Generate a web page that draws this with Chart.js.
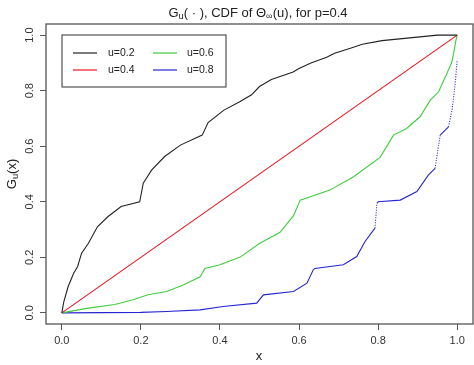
<!DOCTYPE html>
<html>
<head>
<meta charset="utf-8">
<script src="https://cdn.jsdelivr.net/npm/chart.js@4/dist/chart.umd.min.js"></script>
<style>
  html, body { margin: 0; padding: 0; background: #fff; }
  #wrap { width: 474px; height: 365px; }
</style>
</head>
<body>
<div id="wrap"><canvas id="graph"></canvas></div>
<script>
// values
let labels = ['u=0.2', 'u=0.4', 'u=0.6', 'u=0.8']
let colores = ['#222222', '#e8141e', '#3fcc3f', '#2626d0']
let ticks = [0, 0.2, 0.4, 0.6, 0.8, 1.0]

let x02 = [0, 0.005, 0.016, 0.03, 0.04, 0.05, 0.067, 0.09, 0.117, 0.15, 0.197, 0.206, 0.227, 0.26, 0.30, 0.355, 0.37, 0.41, 0.45, 0.48, 0.50, 0.53, 0.585, 0.6, 0.63, 0.67, 0.69, 0.73, 0.76, 0.81, 0.88, 0.95, 1.0]
let y02 = [0, 0.04, 0.095, 0.143, 0.167, 0.215, 0.25, 0.31, 0.347, 0.383, 0.40, 0.467, 0.514, 0.563, 0.604, 0.64, 0.685, 0.73, 0.76, 0.785, 0.815, 0.84, 0.867, 0.88, 0.90, 0.92, 0.935, 0.953, 0.967, 0.98, 0.99, 1.0, 1.0]

let x04 = [0, 1]
let y04 = [0, 1]

let x06 = [0, 0.067, 0.134, 0.18, 0.218, 0.265, 0.307, 0.35, 0.362, 0.40, 0.45, 0.50, 0.552, 0.586, 0.603, 0.678, 0.738, 0.805, 0.839, 0.872, 0.906, 0.932, 0.953, 0.974, 0.987, 0.997, 1.0]
let y06 = [0, 0.017, 0.03, 0.047, 0.065, 0.077, 0.10, 0.13, 0.16, 0.173, 0.20, 0.25, 0.29, 0.35, 0.406, 0.442, 0.49, 0.56, 0.64, 0.664, 0.706, 0.766, 0.796, 0.862, 0.905, 0.982, 1.0]

let x08 = [0, 0.2, 0.265, 0.35, 0.408, 0.493, 0.51, 0.586, 0.62, 0.636, 0.64, 0.712, 0.746, 0.767, 0.792, 0.797, 0.80, 0.856, 0.898, 0.927, 0.944, 0.957, 0.978, 0.987, 0.995, 1.0]
let y08 = [0, 0.002, 0.005, 0.011, 0.023, 0.035, 0.065, 0.077, 0.107, 0.155, 0.16, 0.173, 0.203, 0.257, 0.305, 0.394, 0.40, 0.406, 0.437, 0.496, 0.52, 0.64, 0.67, 0.73, 0.826, 0.91]

function pares(xs, ys) {
  let out = []
  for (let i = 0; i < xs.length; i++) out.push({x: xs[i], y: ys[i]})
  return out
}

let series = [pares(x02, y02), pares(x04, y04), pares(x06, y06), pares(x08, y08)]

// blue curve: steep parts look dotted in the original (sparse points)
function punteado(ctx) {
  const dx = Math.abs(ctx.p1.x - ctx.p0.x)
  const dy = Math.abs(ctx.p1.y - ctx.p0.y)
  return dy > 4 * dx ? [1, 1.5] : undefined
}

const data = {
  datasets: series.map((d, i) => ({
    label: labels[i],
    data: d,
    showLine: true,
    borderColor: colores[i],
    borderWidth: 1.1,
    pointRadius: 0,
    tension: 0,
    segment: i === 3 ? { borderDash: punteado } : undefined
  }))
}

const fuente = '"Liberation Sans", Arial, sans-serif'

// text with subscripts: pieces are [text, isSub]
function drawRich(ctx, parts, x, y, size) {
  let total = 0
  parts.forEach(p => {
    ctx.font = (p[1] ? size * 0.72 : size) + 'px ' + fuente
    total += ctx.measureText(p[0]).width
  })
  let cx = x - total / 2
  ctx.textAlign = 'left'
  ctx.textBaseline = 'middle'
  parts.forEach(p => {
    ctx.font = (p[1] ? size * 0.72 : size) + 'px ' + fuente
    ctx.fillText(p[0], cx, p[1] ? y + size * 0.3 : y)
    cx += ctx.measureText(p[0]).width
  })
}

const rPlot = {
  id: 'rPlot',
  afterDraw(chart) {
    const ctx = chart.ctx
    const a = chart.chartArea
    const ys = chart.scales.y
    ctx.save()
    // box
    ctx.strokeStyle = '#555'
    ctx.lineWidth = 1.3
    ctx.strokeRect(a.left, a.top, a.right - a.left, a.bottom - a.top)

    // y tick labels, rotated like R
    ctx.fillStyle = '#333'
    ctx.font = '11px ' + fuente
    ctx.textAlign = 'center'
    ctx.textBaseline = 'middle'
    ys.ticks.forEach(t => {
      const py = ys.getPixelForValue(t.value)
      ctx.save()
      ctx.translate(30, py)
      ctx.rotate(-Math.PI / 2)
      ctx.fillText(t.value.toFixed(1), 0, 0)
      ctx.restore()
    })

    // title
    ctx.fillStyle = '#222'
    drawRich(ctx, [['G', false], ['u', true], ['( \u00b7 ), CDF of \u0398', false], ['\u221e', true], ['(u), for p=0.4', false]], 258, 13, 13)

    // axis labels
    drawRich(ctx, [['x', false]], 259, 356, 13)
    ctx.save()
    ctx.translate(12, (a.top + a.bottom) / 2)
    ctx.rotate(-Math.PI / 2)
    drawRich(ctx, [['G', false], ['u', true], ['(x)', false]], 0, 0, 13)
    ctx.restore()

    // legend box
    ctx.strokeStyle = '#333'
    ctx.lineWidth = 1
    ctx.strokeRect(62, 35, 164, 52)
    const cols = [[73, 108], [153, 187]]
    const rows = [53, 70]
    chart.data.datasets.forEach((ds, i) => {
      const c = cols[Math.floor(i / 2)]
      const r = rows[i % 2]
      ctx.strokeStyle = ds.borderColor
      ctx.lineWidth = 1.2
      ctx.beginPath()
      ctx.moveTo(c[0], r)
      ctx.lineTo(c[0] + 24, r)
      ctx.stroke()
      ctx.fillStyle = '#222'
      ctx.font = '10.5px ' + fuente
      ctx.textAlign = 'left'
      ctx.textBaseline = 'middle'
      ctx.fillText(ds.label, c[1], r)
    })
    ctx.restore()
  }
}

const config = {
  type: 'scatter',
  data: data,
  options: {
    responsive: true,
    maintainAspectRatio: false,
    animation: false,
    layout: { padding: { top: 24, right: 1, left: 0, bottom: 0 } },
    plugins: { legend: { display: false }, tooltip: { enabled: false } },
    scales: {
      x: {
        type: 'linear',
        min: -0.04,
        max: 1.04,
        afterBuildTicks: s => { s.ticks = ticks.map(v => ({value: v})) },
        afterFit: s => { s.height = 41 },
        border: { display: false },
        grid: { drawOnChartArea: false, tickLength: 6, color: '#555', lineWidth: 1 },
        ticks: {
          color: '#333',
          font: { family: fuente, size: 11 },
          padding: 4,
          maxRotation: 0,
          callback: v => v.toFixed(1)
        }
      },
      y: {
        type: 'linear',
        min: -0.04,
        max: 1.04,
        afterBuildTicks: s => { s.ticks = ticks.map(v => ({value: v})) },
        afterFit: s => { s.width = 46 },
        border: { display: false },
        grid: { drawOnChartArea: false, tickLength: 6, color: '#555', lineWidth: 1 },
        ticks: { display: false }
      }
    }
  },
  plugins: [rPlot]
}

const myChart = new Chart(document.getElementById('graph'), config)
</script>
</body>
</html>
